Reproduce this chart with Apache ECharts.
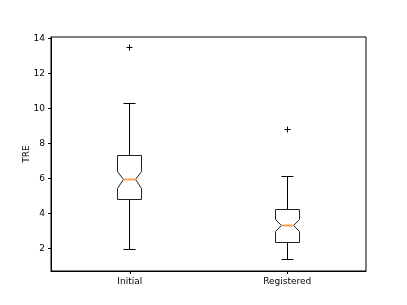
<!DOCTYPE html>
<html>
<head>
<meta charset="utf-8">
<script src="https://cdn.jsdelivr.net/npm/echarts@6/dist/echarts.min.js"></script>
<style>
html,body{margin:0;padding:0;background:#fff;}
#chart{width:407px;height:305px;}
</style>
</head>
<body>
<div id="chart"></div>
<script>
const categories = ['Initial', 'Registered'];
const lowerWhisker = [1.94, 1.37];
const q1 = [4.78, 2.36];
const median = [5.92, 3.32];
const q3 = [7.32, 4.22];
const upperWhisker = [10.29, 6.10];
const notchLow = [5.45, 2.97];
const notchHigh = [6.39, 3.67];
const fliers = [[0, 13.48], [1, 8.82]];
const yTicks = [2, 4, 6, 8, 10, 12, 14];

const boxData = categories.map((c, i) => [i, lowerWhisker[i], q1[i], median[i], q3[i], upperWhisker[i], notchLow[i], notchHigh[i]]);

const chart = echarts.init(document.getElementById('chart'), null, {renderer: 'canvas'});
const font = 'DejaVu Sans';
const crisp = v => Math.round(v - 0.5) + 0.5;

function renderBox(params, api) {
  const i = api.value(0);
  const bw = api.size([1, 0])[0];
  const hw = bw * 0.075;
  const cx = crisp(api.coord([i, 0])[0]);
  const y = v => crisp(api.coord([i, v])[1]);
  const L = crisp(cx - hw), R = crisp(cx + hw), qw = hw / 2;
  const yLw = y(api.value(1)), yQ1 = y(api.value(2)), yMed = y(api.value(3)),
        yQ3 = y(api.value(4)), yUw = y(api.value(5)), yNl = y(api.value(6)), yNh = y(api.value(7));
  const ls = {stroke: '#000', lineWidth: 1, fill: null};
  const capHw = Math.round(hw / 2);
  return {
    type: 'group',
    children: [
      {type: 'line', shape: {x1: cx, y1: yQ1, x2: cx, y2: yLw}, style: ls},
      {type: 'line', shape: {x1: cx, y1: yQ3, x2: cx, y2: yUw}, style: ls},
      {type: 'line', shape: {x1: cx - capHw, y1: yLw, x2: cx + capHw, y2: yLw}, style: ls},
      {type: 'line', shape: {x1: cx - capHw, y1: yUw, x2: cx + capHw, y2: yUw}, style: ls},
      {type: 'polygon', shape: {points: [[L, yQ1], [R, yQ1], [R, yNl], [R - qw, yMed], [R, yNh], [R, yQ3], [L, yQ3], [L, yNh], [L + qw, yMed], [L, yNl]]}, style: {stroke: '#222', lineWidth: 1, fill: 'rgba(0,0,0,0)'}},
      {type: 'line', shape: {x1: L + qw, y1: yMed, x2: R - qw, y2: yMed}, style: {stroke: '#ff9a40', lineWidth: 1.8}}
    ]
  };
}

function renderFlier(params, api) {
  const p = api.coord([api.value(0), api.value(1)]);
  const px = crisp(p[0]), py = crisp(p[1]);
  const s = 3;
  const ls = {stroke: '#000', lineWidth: 1};
  return {
    type: 'group',
    children: [
      {type: 'line', shape: {x1: px - s, y1: py, x2: px + s, y2: py}, style: ls},
      {type: 'line', shape: {x1: px, y1: py - s, x2: px, y2: py + s}, style: ls}
    ]
  };
}

chart.setOption({
  animation: false,
  backgroundColor: '#fff',
  grid: {left: 51, right: 41, top: 37, bottom: 34, show: true, borderColor: '#000', borderWidth: 1, backgroundColor: 'transparent'},
  xAxis: {
    type: 'category',
    data: categories,
    boundaryGap: true,
    axisLine: {show: true, lineStyle: {color: '#000', width: 1}},
    axisTick: {show: true, alignWithLabel: true, length: 3, lineStyle: {color: '#000'}},
    axisLabel: {color: '#000', fontFamily: font, fontSize: 9, margin: 6},
    splitLine: {show: false}
  },
  yAxis: {
    type: 'value',
    min: 0.72,
    max: 14.08,
    name: 'TRE',
    nameLocation: 'middle',
    nameGap: 20,
    nameMoveOverlap: false,
    nameRotate: 90,
    nameTextStyle: {color: '#000', fontFamily: font, fontSize: 9},
    axisLine: {show: true, lineStyle: {color: '#000', width: 1}},
    axisTick: {show: true, length: 3, lineStyle: {color: '#000'}, customValues: yTicks},
    axisLabel: {color: '#000', fontFamily: font, fontSize: 9, margin: 6, customValues: yTicks},
    splitLine: {show: false}
  },
  series: [
    {type: 'custom', renderItem: renderBox, data: boxData, encode: {x: 0, y: [1, 2, 3, 4, 5]}, silent: true},
    {type: 'custom', renderItem: renderFlier, data: fliers, encode: {x: 0, y: 1}, silent: true}
  ]
});
</script>
</body>
</html>
